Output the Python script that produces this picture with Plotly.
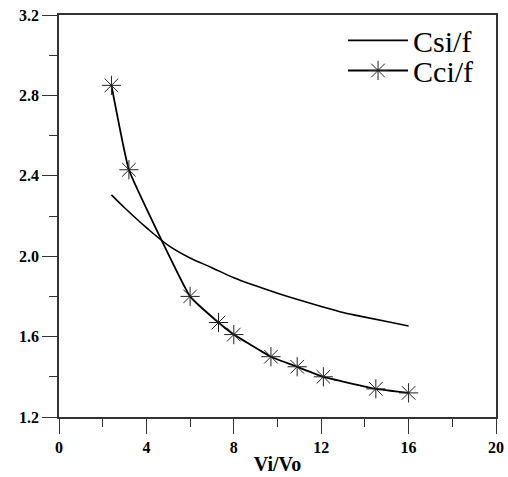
import plotly.graph_objects as go

# Csi/f curve
csi_x = [2.4, 3, 4, 5, 6, 7, 8, 9, 10, 11, 12, 13, 14, 15, 16]
csi_y = [2.305, 2.241, 2.142, 2.054, 1.991, 1.943, 1.893, 1.853, 1.816, 1.782, 1.750, 1.720, 1.697, 1.675, 1.653]

# Cci/f points
cci_x = [2.4, 3.2, 6.0, 7.3, 8.0, 9.7, 10.9, 12.1, 14.5, 16.0]
cci_y = [2.85, 2.43, 1.80, 1.67, 1.61, 1.50, 1.45, 1.40, 1.34, 1.32]

x_ticks = [0, 4, 8, 12, 16, 20]
y_ticks = [1.2, 1.6, 2.0, 2.4, 2.8, 3.2]

serif = "Liberation Serif"

fig = go.Figure()
fig.add_trace(go.Scatter(
    x=csi_x, y=csi_y, mode="lines", name="Csi/f", legend="legend",
    line=dict(color="black", width=1.6, shape="spline"),
))
fig.add_trace(go.Scatter(
    x=cci_x, y=cci_y, mode="lines+markers", name="Cci/f", legend="legend2",
    line=dict(color="black", width=1.8, shape="spline", smoothing=0.3),
    marker=dict(symbol="asterisk-open", size=16, color="#222",
                line=dict(color="#222", width=1)),
))

axis_common = dict(
    showgrid=False, zeroline=False, showline=True, linecolor="#333", linewidth=1.5,
    mirror=True, ticks="outside", ticklen=15, tickwidth=1.2, tickcolor="#333",
    tickfont=dict(family=serif, size=16, color="black"), automargin=False,
)

fig.update_xaxes(
    range=[0, 20], tickvals=x_ticks, ticktext=[f"<b>{v}</b>" for v in x_ticks],
    minor=dict(dtick=2, ticks="outside", ticklen=8, tickcolor="#333", tickwidth=1.2),
    title=dict(text="<b>Vi/Vo</b>", font=dict(family=serif, size=20, color="black"), standoff=2),
    **axis_common,
)
fig.update_yaxes(
    range=[1.2, 3.2], tickvals=y_ticks, ticktext=[f"<b>{v:.1f}</b>" for v in y_ticks],
    minor=dict(dtick=0.2, ticks="outside", ticklen=8, tickcolor="#333", tickwidth=1.2),
    **axis_common,
)

leg = dict(
    xanchor="left", yanchor="middle",
    bgcolor="rgba(0,0,0,0)", borderwidth=0,
    font=dict(family=serif, size=30, color="black"),
    itemwidth=60, tracegroupgap=0,
)
fig.update_layout(
    width=508, height=477,
    margin=dict(l=59, r=12, t=15, b=60, autoexpand=False),
    paper_bgcolor="white", plot_bgcolor="white",
    font=dict(family=serif),
    showlegend=True,
    legend=dict(x=0.65, y=0.937, **leg),
    legend2=dict(x=0.65, y=0.862, **leg),
)

fig.write_html("out.html")
